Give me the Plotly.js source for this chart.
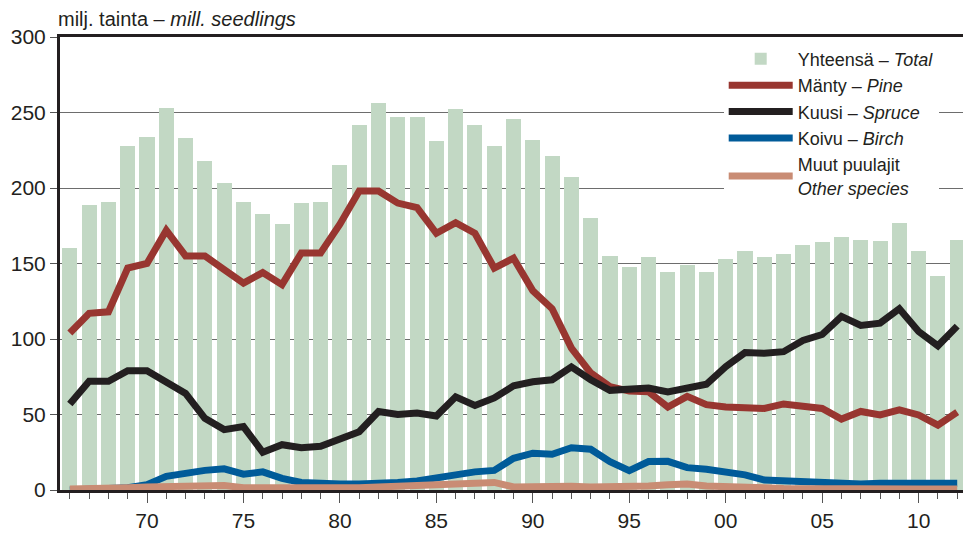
<!DOCTYPE html>
<html>
<head>
<meta charset="utf-8">
<script src="https://cdn.plot.ly/plotly-3.0.1.min.js"></script>
<style>
html,body{margin:0;padding:0;background:#fff;}
#chart{width:963px;height:534px;}
</style>
</head>
<body>
<div id="chart"></div>
<script>
const years = [];
for (let y = 1966; y <= 2012; y++) years.push(y);

const total = [160,189,191,228,234,253,233,218,203,191,183,176,190,191,215,242,256,247,247,231,252,242,228,246,232,221,207,180,155,148,154,144.5,149,144.5,153,158,154,156.5,162,164,167.5,165.5,165,177,158,142,165.5];
const pine = [104,117,118,147,150,172,155,155,146,137,144,136,157,157,176,198,198,190,187,170,177,170,147,153.5,132,120,94,77.5,68.5,65.5,65,55,62,56.5,55,54,54,57,55.6,54,47,52,49.7,53,49.7,43,51.6];
const spruce = [57,72,72,79,79,71,64,47.5,40,42,25,30,28,29,34,38.6,52,50,51,49,61.7,56,61,69,71.7,73,81.5,73,66,67,67.5,65,67.5,70,81.7,91,90.5,91.6,99,103,115,109,110.5,120,105,95.5,108.5];
const birch = [0,1,1,1.5,3.5,9,11.5,13,14,10.5,12,7.7,5,4,4,4,4,5,6,8.5,10,12,13,21,24.4,23.7,28,27,18.8,12.8,18.8,19,14.8,13.7,12,10,6.6,6,6,5,5,4,4.5,4.5,4.5,4,4.5];
const other = [0.6,0.6,1,1.5,2,2.5,2.6,2.5,3,1.5,1.5,1.5,1.5,0.6,1,1.5,2,2.5,2.6,3.7,4.5,5,5,2,2.5,2.5,2.5,2,2,2,2.6,3.5,4,2.6,2.5,2,1.5,1,0.8,0.6,0.6,0.6,0.6,0.6,0.6,0.6,0.6];

const tickYears = [1970,1975,1980,1985,1990,1995,2000,2005,2010];
const tickLabels = ["70","75","80","85","90","95","00","05","10"];
const yTicks = [0,50,100,150,200,250,300];

const names = {
  total: "Yhteensä – <i>Total</i>",
  pine: "Mänty – <i>Pine</i>",
  spruce: "Kuusi – <i>Spruce</i>",
  birch: "Koivu – <i>Birch</i>",
  other: "Muut puulajit<br><i>Other species</i>"
};

const FONT = "'Liberation Sans Narrow', 'Arial Narrow', 'Liberation Sans', Arial, sans-serif";
const TXT = "#231f20";

const lineTrace = (y, name, color) => ({
  type: "scatter", mode: "lines", x: years, y: y, name: name,
  line: {color: color, width: 7, shape: "linear"}
});

const data = [
  {type: "bar", x: years, y: total, name: names.total, marker: {color: "#c2d8c4", line: {width: 0}}, width: 0.78},
  lineTrace(pine, names.pine, "#983630"),
  lineTrace(spruce, names.spruce, "#231f20"),
  lineTrace(birch, names.birch, "#005b99"),
  lineTrace(other, names.other, "#c98c74")
];

const layout = {
  width: 963, height: 534,
  margin: {l: 60, r: 0, t: 37, b: 44},
  paper_bgcolor: "#fff", plot_bgcolor: "#fff",
  font: {family: FONT, size: 20, color: TXT},
  showlegend: true,
  bargap: 0,
  xaxis: {
    range: [1965.49, 2012.3],
    tickmode: "array", tickvals: tickYears, ticktext: tickLabels,
    ticks: "outside", ticklen: 10, tickwidth: 1, tickcolor: "#555",
    minor: {tickmode: "linear", tick0: 1966, dtick: 1, ticks: "outside", ticklen: 6, tickwidth: 1, tickcolor: "#555", showgrid: false},
    showgrid: false, zeroline: false,
    showline: true, linecolor: "#231f20", linewidth: 3, mirror: true,
    tickfont: {family: FONT, size: 21, color: TXT},
    fixedrange: true
  },
  yaxis: {
    range: [0, 300],
    tickmode: "array", tickvals: yTicks,
    ticks: "outside", ticklen: 7, tickwidth: 1, tickcolor: "#555",
    showgrid: true, gridcolor: "#6d6d6d", gridwidth: 1,
    zeroline: false,
    showline: true, linecolor: "#231f20", linewidth: 3,
    tickfont: {family: FONT, size: 21, color: TXT},
    ticklabelstandoff: 0,
    fixedrange: true
  },
  legend: {
    x: 0.735, y: 0.992, xanchor: "left", yanchor: "top",
    bgcolor: "#fff", borderwidth: 0,
    font: {family: FONT, size: 18, color: TXT},
    itemwidth: 64, tracegroupgap: 0,
    traceorder: "normal"
  },
  annotations: [{
    xref: "paper", yref: "paper", x: -0.004, y: 1, yshift: 5,
    xanchor: "left", yanchor: "bottom", showarrow: false,
    text: "milj. tainta – <i>mill. seedlings</i>",
    font: {family: FONT, size: 20, color: TXT}
  }]
};

Plotly.newPlot("chart", data, layout, {displayModeBar: false, staticPlot: true});
</script>
</body>
</html>
